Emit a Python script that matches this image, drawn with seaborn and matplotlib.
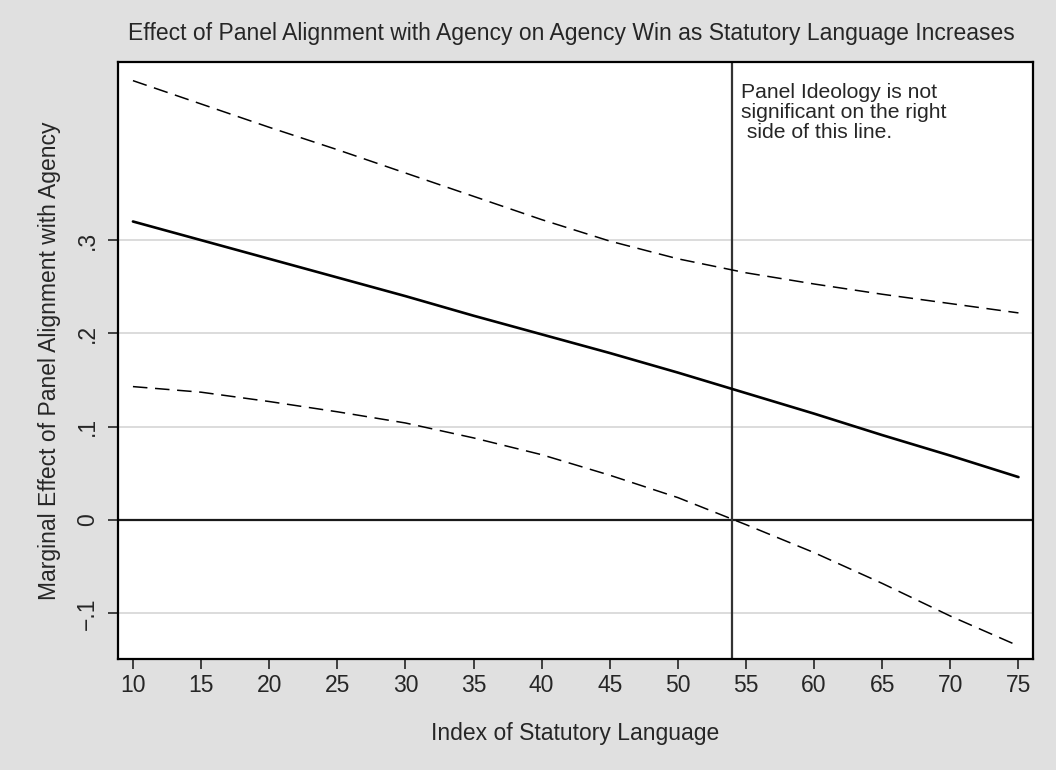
import numpy as np
import pandas as pd
import matplotlib
matplotlib.use("Agg")
import matplotlib.pyplot as plt
import seaborn as sns

# values
statutory = [10, 15, 20, 25, 30, 35, 40, 45, 50, 55, 60, 65, 70, 75]
marginal = [0.320, 0.300, 0.280, 0.260, 0.240, 0.219, 0.199, 0.179, 0.158,
            0.136, 0.114, 0.091, 0.069, 0.046]
upper_ci = [0.471, 0.446, 0.421, 0.397, 0.372, 0.347, 0.322, 0.299, 0.280,
            0.265, 0.253, 0.242, 0.232, 0.222]
lower_ci = [0.143, 0.137, 0.127, 0.116, 0.104, 0.088, 0.070, 0.048, 0.024,
            -0.005, -0.035, -0.068, -0.103, -0.135]
x_ticks = [10, 15, 20, 25, 30, 35, 40, 45, 50, 55, 60, 65, 70, 75]
y_ticks = [-0.1, 0, 0.1, 0.2, 0.3]
y_ticklabels = ["\u2212.1", "0", ".1", ".2", ".3"]
cutoff = 54

df = pd.DataFrame({"x": statutory, "me": marginal, "hi": upper_ci, "lo": lower_ci})

sns.set_style("white")
plt.rcParams["font.family"] = ["Liberation Sans", "DejaVu Sans"]

bg = "#e0e0e0"
fs = 16.5
fig = plt.figure(figsize=(10.56, 7.7), dpi=100, facecolor=bg)
ax = fig.add_axes([0.1117, 0.1442, 0.8663, 0.7753])
ax.set_facecolor("white")

# reference lines and grid
for yt in y_ticks:
    if yt != 0:
        ax.axhline(yt, color="#dcdcdc", lw=1.4, zorder=0)
ax.axhline(0, color="#1a1a1a", lw=1.6, zorder=1)
ax.axvline(cutoff, color="#333333", lw=1.6, zorder=1)

sns.lineplot(data=df, x="x", y="me", ax=ax, color="black", lw=1.9, zorder=3)
sns.lineplot(data=df, x="x", y="hi", ax=ax, color="black", lw=1.1,
             linestyle=(0, (9.5, 5)), zorder=3)
sns.lineplot(data=df, x="x", y="lo", ax=ax, color="black", lw=1.1,
             linestyle=(0, (9.5, 5)), zorder=3)

ax.set_xlim(8.9, 76.05)
ax.set_ylim(-0.149, 0.491)
ax.set_xticks(x_ticks)
ax.set_xticklabels([str(v) for v in x_ticks])
ax.set_yticks(y_ticks)
ax.set_yticklabels(y_ticklabels, rotation=90, va="center")
ax.tick_params(axis="both", direction="out", length=7.5, width=1.3,
               color="#333333", labelsize=fs, pad=3, left=True, bottom=True)
ax.tick_params(axis="y", pad=6)

for sp in ax.spines.values():
    sp.set_color("black")
    sp.set_linewidth(1.6)

ax.set_xlabel("Index of Statutory Language", fontsize=fs)
ax.set_ylabel("Marginal Effect of Panel Alignment with Agency", fontsize=fs)
ax.xaxis.set_label_coords(0.5, -0.106)
ax.yaxis.set_label_coords(-0.062, 0.5)

ax.text(54.6, 0.468, "Panel Ideology is not\nsignificant on the right\n side of this line.",
        fontsize=15.2, va="top", ha="left", linespacing=1.05)

fig.text(0.541, 0.957, "Effect of Panel Alignment with Agency on Agency Win as Statutory Language Increases",
         ha="center", va="center", fontsize=fs)

fig.savefig("out.png", dpi=100, facecolor=bg)
